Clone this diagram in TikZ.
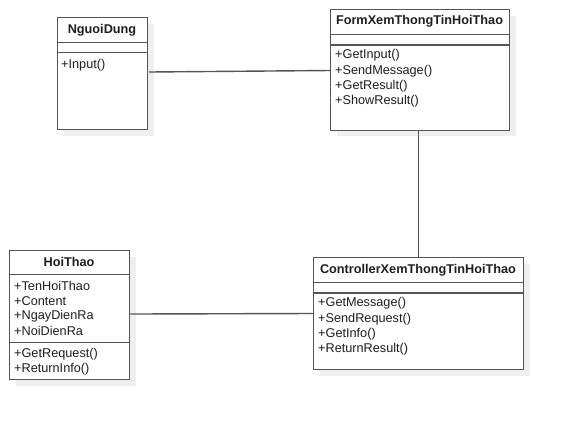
\documentclass[tikz,border=0pt]{standalone}
\usepackage{fontspec}
\setmainfont{Liberation Sans}
\begin{document}
\begin{tikzpicture}[x=1bp,y=-1bp,
  cls/.style={draw=edgegray,line width=1.4bp,fill=white,rectangle,inner sep=0pt,anchor=north west},
  shadowbox/.style={fill=shadowgray,draw=none},
  sep/.style={draw=edgegray,line width=1.4bp},
  title/.style={font=\fontsize{12.7bp}{15bp}\selectfont\bfseries,text=textblack,inner sep=0pt},
  member/.style={font=\fontsize{12.7bp}{15bp}\selectfont,text=textblack,inner sep=0pt,anchor=west},
  assoc/.style={draw=linegray,line width=1.4bp}]
\definecolor{edgegray}{HTML}{555555}
\definecolor{linegray}{HTML}{555555}
\definecolor{shadowgray}{HTML}{EFEFEF}
\definecolor{textblack}{HTML}{1E1E1E}
\useasboundingbox (0,0) rectangle (563,420);
\fill[white] (0,0) rectangle (563,420);
% shadows
\fill[shadowgray] (64,24) rectangle (154,136);
\fill[shadowgray] (337,16) rectangle (516,136);
\fill[shadowgray] (16,257) rectangle (136,386);
\fill[shadowgray] (320,264) rectangle (530,376);
% NguoiDung
\node[cls,minimum width=90bp,minimum height=112bp] (nd) at (57,17) {};
\draw[sep] (57,42.5) -- (147,42.5) (57,52.5) -- (147,52.5);
\node[title] (ndt) at (102,30) {NguoiDung};
\node[member] (nd1) at (61,65) {+Input()};
% Form
\node[cls,minimum width=179bp,minimum height=120.5bp] (fm) at (330,9) {};
\draw[sep] (330,34.5) -- (509,34.5) (330,45) -- (509,45);
\node[title] (fmt) at (419.5,21.5) {FormXemThongTinHoiThao};
\node[member] (fm1) at (335,55.5) {+GetInput()};
\node[member] (fm2) at (335,70.8) {+SendMessage()};
\node[member] (fm3) at (335,86.1) {+GetResult()};
\node[member] (fm4) at (335,101.4) {+ShowResult()};
% HoiThao
\node[cls,minimum width=120bp,minimum height=129bp] (ht) at (9,250) {};
\draw[sep] (9,274.5) -- (129,274.5) (9,342.5) -- (129,342.5);
\node[title] (htt) at (69,262) {HoiThao};
\node[member] (ht1) at (14,285.5) {+TenHoiThao};
\node[member] (ht2) at (14,300.8) {+Content};
\node[member] (ht3) at (14,316.1) {+NgayDienRa};
\node[member] (ht4) at (14,331.4) {+NoiDienRa};
\node[member] (ht5) at (14,354) {+GetRequest()};
\node[member] (ht6) at (14,369.3) {+ReturnInfo()};
% Controller
\node[cls,minimum width=210bp,minimum height=112bp] (ct) at (313,257) {};
\draw[sep] (313,282.5) -- (523,282.5) (313,293) -- (523,293);
\node[title] (ctt) at (418,270) {ControllerXemThongTinHoiThao};
\node[member] (ct1) at (318,303.5) {+GetMessage()};
\node[member] (ct2) at (318,318.8) {+SendRequest()};
\node[member] (ct3) at (318,334.1) {+GetInfo()};
\node[member] (ct4) at (318,349.4) {+ReturnResult()};
% associations
\coordinate (a1) at (149,72);
\draw[assoc] (a1) -- (fm.west |- 0,70.5);
\draw[assoc] (fm.south -| 418.5,0) -- (ct.north -| 418.5,0);
\draw[assoc] (ht.east |- 0,314) -- (ct.west |- 0,313.5);
\end{tikzpicture}
\end{document}
